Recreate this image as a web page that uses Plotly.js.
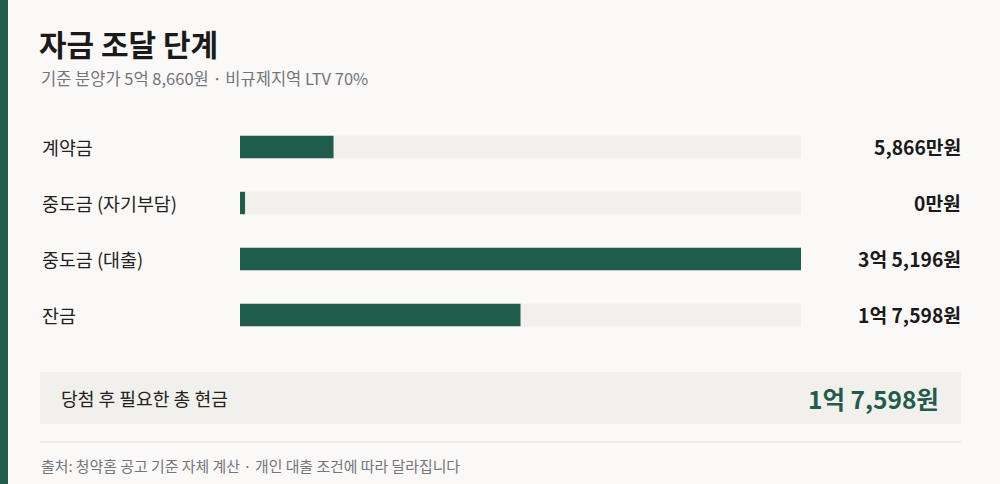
<!DOCTYPE html>
<html><head><meta charset="utf-8">
<script src="https://cdn.plot.ly/plotly-3.0.1.min.js"></script>
<style>html,body{margin:0;padding:0;background:#faf9f7;}#chart{width:1000px;height:484px;}</style>
</head><body><div id="chart"></div>
<script>
const categories = ["계약금", "중도금 (자기부담)", "중도금 (대출)", "잔금"];
const valuesMan = [5866, 0, 35196, 17598];
const valueLabels = ["5,866만원", "0만원", "3억 5,196원", "1억 7,598원"];
const titleText = "자금 조달 단계";
const subtitleText = "기준 분양가 5억 8,660원 · 비규제지역 LTV 70%";
const totalLabel = "당첨 후 필요한 총 현금";
const totalValue = "1억 7,598원";
const sourceText = "출처: 청약홈 공고 기준 자체 계산 · 개인 대출 조건에 따라 달라집니다";

const GREEN = "#1f5c4b";
const TRACK = "#f1f0ec";
const FONT = "'Noto Sans CJK KR', 'Noto Sans', sans-serif";
const W = 1000, H = 484;
const px = v => v / W;
const py = v => 1 - v / H;

const maxVal = Math.max(...valuesMan);
const minVis = maxVal * 0.009;
const shown = valuesMan.map(v => Math.max(v, minVis));

const traces = [
  {type: "bar", orientation: "h", y: categories, x: categories.map(() => maxVal),
   marker: {color: TRACK}, width: 0.4, hoverinfo: "skip"},
  {type: "bar", orientation: "h", y: categories, x: shown,
   marker: {color: GREEN}, width: 0.4, hoverinfo: "skip"}
];

const annotations = [];
categories.forEach((c, i) => {
  annotations.push({xref: "paper", yref: "y", x: px(40), y: c, xanchor: "left", yanchor: "middle",
    text: c, showarrow: false, font: {family: FONT, size: 18.4, color: "#222"}});
  annotations.push({xref: "paper", yref: "y", x: px(963), y: c, xanchor: "right", yanchor: "middle",
    text: "<b>" + valueLabels[i] + "</b>", showarrow: false, font: {family: FONT, size: 19.3, color: "#1a1a1a"}});
});
annotations.push({xref: "paper", yref: "paper", x: px(39), y: py(78), xanchor: "left", yanchor: "middle",
  text: subtitleText, showarrow: false, font: {family: FONT, size: 16.5, color: "#72757b"}});
annotations.push({xref: "paper", yref: "paper", x: px(59), y: py(398), xanchor: "left", yanchor: "middle",
  text: totalLabel, showarrow: false, font: {family: FONT, size: 18.2, color: "#222"}});
annotations.push({xref: "paper", yref: "paper", x: px(941), y: py(398), xanchor: "right", yanchor: "middle",
  text: "<b>" + totalValue + "</b>", showarrow: false, font: {family: FONT, size: 24.5, color: GREEN}});
annotations.push({xref: "paper", yref: "paper", x: px(39), y: py(465), xanchor: "left", yanchor: "middle",
  text: sourceText, showarrow: false, font: {family: FONT, size: 14.9, color: "#72757b"}});

const layout = {
  width: W, height: H,
  margin: {l: 0, r: 0, t: 0, b: 0},
  paper_bgcolor: "#faf9f7", plot_bgcolor: "rgba(0,0,0,0)",
  showlegend: false, barmode: "overlay",
  title: {text: "<b>" + titleText + "</b>", x: px(39), xanchor: "left", xref: "paper",
          y: py(45), yanchor: "middle", yref: "paper",
          font: {family: FONT, size: 30, color: "#1a1a1a"}},
  xaxis: {domain: [px(240), px(801)], range: [0, maxVal], visible: false, fixedrange: true},
  yaxis: {domain: [py(343), py(119)], autorange: "reversed", visible: false, type: "category", fixedrange: true},
  shapes: [
    {type: "rect", xref: "paper", yref: "paper", x0: 0, x1: px(8), y0: 0, y1: 1, fillcolor: GREEN, line: {width: 0}},
    {type: "rect", xref: "paper", yref: "paper", x0: px(40), x1: px(961), y0: py(424), y1: py(372), fillcolor: TRACK, line: {width: 0}, layer: "below"},
    {type: "line", xref: "paper", yref: "paper", x0: px(40), x1: px(961), y0: py(442), y1: py(442), line: {color: "#e2e0db", width: 1}}
  ],
  annotations: annotations
};
Plotly.newPlot("chart", traces, layout, {displayModeBar: false, staticPlot: true});
</script></body></html>
